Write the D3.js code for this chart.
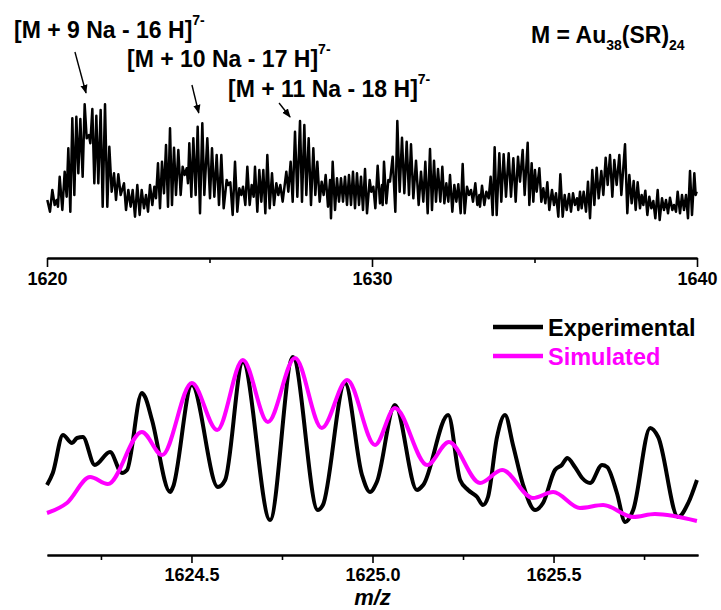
<!DOCTYPE html>
<html><head><meta charset="utf-8">
<script src="https://cdn.jsdelivr.net/npm/d3@7"></script>
<style>
html,body{margin:0;padding:0;background:#fff;}
svg{display:block;font-family:"Liberation Sans",Arial,sans-serif;font-weight:bold;}
</style></head>
<body>
<script>
// ---------- DATA ----------
const topMz = [1620.010,1620.092,1620.164,1620.236,1620.297,1620.338,1620.390,1620.472,1620.544,1620.605,1620.656,1620.718,1620.779,1620.841,1620.903,1620.964,1621.026,1621.097,1621.159,1621.221,1621.292,1621.333,1621.395,1621.456,1621.518,1621.579,1621.651,1621.713,1621.785,1621.856,1621.918,1621.990,1622.062,1622.123,1622.195,1622.267,1622.369,1622.431,1622.503,1622.574,1622.636,1622.708,1622.779,1622.851,1622.913,1622.985,1623.046,1623.108,1623.169,1623.241,1623.303,1623.354,1623.415,1623.477,1623.538,1623.600,1623.662,1623.723,1623.785,1623.846,1623.908,1623.969,1624.041,1624.113,1624.174,1624.236,1624.297,1624.338,1624.379,1624.441,1624.503,1624.574,1624.636,1624.708,1624.779,1624.841,1624.933,
1625.015,1625.077,1625.149,1625.221,1625.292,1625.364,1625.436,1625.528,1625.579,1625.641,1625.713,1625.785,1625.856,1625.918,1625.979,1626.031,1626.103,1626.164,1626.236,1626.297,1626.359,1626.400,1626.472,1626.533,1626.595,1626.656,1626.718,1626.779,1626.851,1626.923,1626.985,1627.056,1627.118,1627.179,1627.251,1627.364,1627.426,1627.497,1627.559,1627.631,1627.703,1627.785,1627.846,1627.918,1627.979,1628.051,1628.123,1628.195,1628.256,1628.318,1628.390,1628.451,1628.513,1628.574,1628.646,1628.708,1628.738,1628.790,1628.862,1628.923,1628.985,1629.046,1629.108,1629.169,1629.231,1629.292,1629.354,1629.415,1629.477,1629.538,1629.600,1629.662,1629.723,1629.785,1629.846,1629.928,
1629.979,1630.041,1630.103,1630.174,1630.246,1630.308,1630.328,1630.369,1630.441,1630.503,1630.554,1630.636,1630.718,1630.779,1630.851,1630.923,1630.995,1631.067,1631.138,1631.200,1631.272,1631.354,1631.436,1631.508,1631.579,1631.641,1631.713,1631.785,1631.846,1631.908,1631.969,1632.031,1632.103,1632.164,1632.226,1632.287,1632.349,1632.400,1632.472,1632.533,1632.595,1632.656,1632.728,1632.790,1632.851,1632.923,1632.985,1633.046,1633.108,1633.179,1633.241,1633.303,1633.323,1633.385,1633.456,1633.518,1633.590,1633.651,1633.713,1633.774,1633.836,1633.918,1633.979,1634.051,1634.123,1634.205,1634.277,1634.349,1634.421,1634.492,1634.554,1634.636,1634.697,1634.790,1634.841,
1634.913,1634.964,1635.015,1635.067,1635.149,1635.210,1635.272,1635.333,1635.395,1635.456,1635.538,1635.600,1635.662,1635.733,1635.795,1635.867,1635.928,1635.990,1636.062,1636.123,1636.185,1636.246,1636.308,1636.349,1636.400,1636.451,1636.513,1636.585,1636.646,1636.708,1636.779,1636.841,1636.913,1636.974,1637.056,1637.118,1637.190,1637.251,1637.323,1637.395,1637.456,1637.528,1637.610,1637.672,1637.785,1637.856,1637.918,1637.990,1638.051,1638.113,1638.174,1638.246,1638.297,1638.349,1638.410,1638.472,1638.533,1638.595,1638.656,1638.718,1638.790,1638.851,1638.923,1638.985,1639.046,1639.108,1639.169,1639.241,1639.292,1639.354,1639.405,1639.477,1639.538,1639.600,1639.662,1639.723,1639.785,1639.846,1639.918,1639.959,1639.990];
const topInt = [30,18.3,40,25,30,23.3,53.3,20,58.3,33.3,81.7,18.3,111.7,35,113.3,56.7,111,53.3,125.7,91.7,95,86.7,121,46.7,114.3,46.7,120,23.3,125.7,23.3,83.3,38.3,56.7,30,55.7,35,46.7,20,40,23.3,40,13.3,45,15,40,21.7,35,18.3,45,25,43.3,31.7,66.7,21.7,68.3,36.7,85,23.3,101.7,25,82.3,35,80,35,63.3,55,61.7,46.7,86.7,33.3,91.7,35,103.3,16.7,106.7,35,91.7,
31.7,81.7,33.3,75,25,75,21.7,50,45,47.7,15,68.3,18.3,41.7,35,43.3,25,63.3,25,45,33.3,63.3,18.3,60,28.3,60,16.7,75,21.7,56.7,25,46.7,35,45,28.3,58.3,38.3,68.3,28.3,98.3,33.3,109,28.3,105,35,91.7,25,81.7,35,68.3,28.3,48.3,35,55,23.3,50,11.7,68.3,20,51.7,28.3,51.7,28.3,53.3,25,55,25,58.3,21.7,56.7,25,53.3,20,61,16.7,50,
38.3,43.3,21.7,64.3,26.7,45,25,68.3,26.7,50,48.3,73.3,18.3,109,38.3,92.3,36.7,88.3,35,85.7,31.7,69.3,25,58.3,28.3,68.3,16.7,81,20,69.3,28.3,61,28.3,63.3,26.7,46.7,28.3,55,18.3,45,28.3,45.7,16.7,66,16.7,43.3,35,40,28.3,46.7,25,35,23.3,44.3,25,38.3,31.7,53.3,15,82.7,15,76.7,28.3,75.7,33.3,76.7,33.3,71.7,28.3,73.3,48.3,80,35,87.3,25,
66.7,28.3,60,38.3,61.7,28.3,41.7,26.7,47.7,20,40,25,36.7,13.3,55.7,13.3,35,20,36,18.3,36.7,25,31.7,20,38.3,21.7,38.3,18.3,48.3,11.7,60,25,62.3,31.7,59,35,72.3,45,75,33.3,70,45,75,35,85.7,16.7,55,26.7,49,20,47.7,21.7,35,25,39.3,15,33.3,21.7,29,11.7,40,10,31.7,20,30,16.7,32.3,20,25,18.3,38.3,16.7,35,20,35,11.7,59,15,56.7,35,38.3];
const topMajorTicks = [1620, 1630, 1640];
const topMinorTicks = [1625, 1635];

const expMz = [1624.101,1624.117,1624.145,1624.170,1624.184,1624.200,1624.233,1624.275,1624.308,1624.322,1624.363,1624.372,1624.391,1624.441,1624.449,1624.501,1624.573,1624.593,1624.642,1624.717,1624.780,1624.849,1624.863,1624.924,1624.971,1624.993,1625.012,1625.062,1625.123,1625.140,1625.209,1625.242,1625.264,1625.289,1625.305,1625.319,1625.344,1625.366,1625.388,1625.416,1625.449,1625.471,1625.504,1625.523,1625.538,1625.559,1625.579,1625.601,1625.634,1625.648,1625.675,1625.698,1625.720,1625.767,1625.789,1625.844,1625.872,1625.896];
const expInt = [35,41,60,56,58.5,59,45,51.5,41,42.5,81,79,67.5,31.5,34,85,34,37.5,96.5,17.5,99,22.5,25,86,40,31.5,36.5,75,32.5,35,70,37.5,32.5,29,25,29,59,70,55,35,22.5,26,42.5,45,48.5,44,38.5,36,45,44,31,16.5,22.5,63.5,59,19,26,37.5];
const simMz = [1624.101,1624.156,1624.220,1624.269,1624.363,1624.419,1624.501,1624.571,1624.642,1624.711,1624.786,1624.860,1624.930,1625.007,1625.062,1625.151,1625.211,1625.297,1625.358,1625.443,1625.499,1625.573,1625.637,1625.720,1625.780,1625.896];
const simInt = [21,26,39,35.5,61.5,50,86,62.5,97.5,66.5,98.5,63.5,87.5,55,73.5,45,56.5,36,42.5,28.5,31.5,23.5,25,19,20.5,17];
const botMajorTicks = [1624.5, 1625.0, 1625.5];
const botMinorTicks = [1624.25, 1624.75, 1625.25, 1625.75];
const seriesNames = ["Experimental", "Simulated"];
const seriesColors = ["#000000", "#ff00ff"];

// annotations: label pieces + arrow (tail/tip in data units of the top panel)
const annotations = [
  {main: "[M + 9 Na - 16 H]",  sup: "7-", tail: [1620.86, 178], tip: [1621.20, 137]},
  {main: "[M + 10 Na - 17 H]", sup: "7-", tail: [1624.46, 145], tip: [1624.67, 117]},
  {main: "[M + 11 Na - 18 H]", sup: "7-", tail: [1627.14, 127], tip: [1627.48, 113]}
];
const annoPos = [[14, 37.5], [127, 66.5], [228, 96.5]];

// ---------- LAYOUT ----------
const W = 721, H = 610;
const svg = d3.select("body").append("svg").attr("width", W).attr("height", H);

const xTop = d3.scaleLinear().domain([1620, 1640]).range([47, 697]);
const yTop = d3.scaleLinear().domain([0, 140]).range([230, 90]);
const xBot = d3.scaleLinear().domain([1624.101, 1625.899]).range([47, 698]);
const yBot = d3.scaleLinear().domain([0, 110]).range([555, 335]);

// ---------- TOP PANEL ----------
const topData = topMz.map((m, i) => [m, topInt[i]]);
svg.append("path").datum(topData)
  .attr("fill", "none").attr("stroke", "#000").attr("stroke-width", 2.5)
  .attr("stroke-linejoin", "round")
  .attr("d", d3.line().x(d => xTop(d[0])).y(d => yTop(d[1])));

const topAxisY = 258;
const gTopMinor = svg.append("g").attr("transform", `translate(0,${topAxisY})`)
  .call(d3.axisBottom(xTop).tickValues(topMinorTicks).tickSize(5).tickSizeOuter(0).tickFormat(""));
const gTopMajor = svg.append("g").attr("transform", `translate(0,${topAxisY})`)
  .call(d3.axisBottom(xTop).tickValues(topMajorTicks).tickSize(9).tickSizeOuter(0).tickFormat(d3.format("d")).tickPadding(5));
[gTopMinor, gTopMajor].forEach(g => {
  g.select(".domain").attr("stroke-width", 1.8);
  g.selectAll(".tick line").attr("stroke-width", 1.6);
  g.selectAll("text").attr("font-size", 18).attr("font-weight", "bold")
    .attr("font-family", "'Liberation Sans', Arial, sans-serif").attr("fill", "#000");
});

// annotations
annotations.forEach((a, i) => {
  const t = svg.append("text").attr("x", annoPos[i][0]).attr("y", annoPos[i][1])
    .attr("font-size", 23);
  t.append("tspan").text(a.main);
  t.append("tspan").attr("font-size", 14).attr("dy", -13).text(a.sup);
});
svg.append("defs").append("marker").attr("id", "ah")
  .attr("viewBox", "0 0 10 10").attr("refX", 9).attr("refY", 5)
  .attr("markerWidth", 9).attr("markerHeight", 9).attr("markerUnits", "userSpaceOnUse")
  .attr("orient", "auto")
  .append("path").attr("d", "M0,1 L10,5 L0,9 Z").attr("fill", "#000");
annotations.forEach(a => {
  svg.append("line")
    .attr("x1", xTop(a.tail[0])).attr("y1", yTop(a.tail[1]))
    .attr("x2", xTop(a.tip[0])).attr("y2", yTop(a.tip[1]))
    .attr("stroke", "#000").attr("stroke-width", 1.4).attr("marker-end", "url(#ah)");
});

// formula label
const f = svg.append("text").attr("x", 531).attr("y", 43).attr("font-size", 23);
f.append("tspan").text("M = Au");
f.append("tspan").attr("font-size", 14).attr("dy", 7).text("38");
f.append("tspan").attr("dy", -7).text("(SR)");
f.append("tspan").attr("font-size", 14).attr("dy", 7).text("24");

// ---------- BOTTOM PANEL ----------
const lineBot = d3.line().x(d => xBot(d[0])).y(d => yBot(d[1])).curve(d3.curveMonotoneX);
const botSeries = [expMz.map((m, i) => [m, expInt[i]]), simMz.map((m, i) => [m, simInt[i]])];
botSeries.forEach((s, i) => {
  svg.append("path").datum(s).attr("fill", "none")
    .attr("stroke", seriesColors[i]).attr("stroke-width", 4)
    .attr("stroke-linejoin", "round").attr("d", lineBot);
});

const botAxisY = 555;
const gBotMinor = svg.append("g").attr("transform", `translate(0,${botAxisY})`)
  .call(d3.axisBottom(xBot).tickValues(botMinorTicks).tickSize(5).tickSizeOuter(0).tickFormat(""));
const gBotMajor = svg.append("g").attr("transform", `translate(0,${botAxisY})`)
  .call(d3.axisBottom(xBot).tickValues(botMajorTicks).tickSize(8).tickSizeOuter(0).tickFormat(d3.format(".1f")).tickPadding(5));
[gBotMinor, gBotMajor].forEach(g => {
  g.select(".domain").attr("stroke-width", 1.8);
  g.selectAll(".tick line").attr("stroke-width", 1.6);
  g.selectAll("text").attr("font-size", 18).attr("font-weight", "bold")
    .attr("font-family", "'Liberation Sans', Arial, sans-serif").attr("fill", "#000");
});
svg.append("text").attr("x", xBot(1625.0)).attr("y", 605).attr("text-anchor", "middle")
  .attr("font-size", 22).attr("font-style", "italic").text("m/z");

// legend
seriesNames.forEach((n, i) => {
  const y = 327 + i * 29;
  svg.append("line").attr("x1", 493).attr("x2", 543).attr("y1", y).attr("y2", y)
    .attr("stroke", seriesColors[i]).attr("stroke-width", 4.5);
  svg.append("text").attr("x", 548).attr("y", y + 8.5).attr("font-size", 23.5)
    .attr("fill", seriesColors[i]).text(n);
});
</script>
</body></html>
